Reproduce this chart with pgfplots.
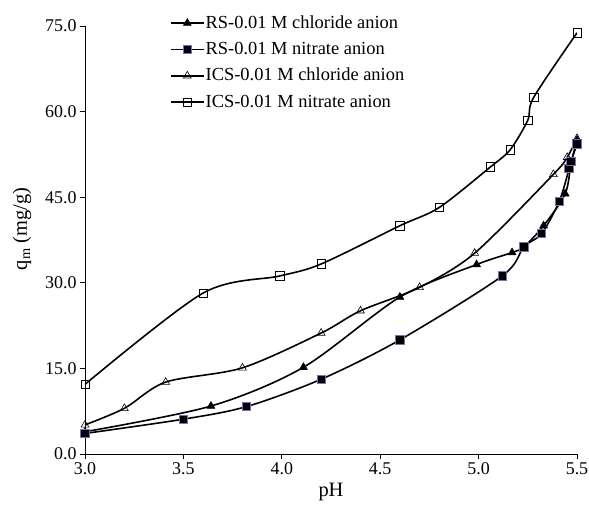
\documentclass[border=0pt]{standalone}
\usepackage{pgfplots}
\pgfplotsset{compat=1.18}
\usepackage{fontspec}
\setmainfont{Liberation Serif}
\definecolor{purp}{RGB}{135,105,185}
\begin{document}
\begin{tikzpicture}
\begin{axis}[
  scale only axis, width=492bp, height=428bp,
  xmin=3, xmax=5.5, ymin=0, ymax=75,
  xtick={3,3.5,4,4.5,5,5.5}, ytick={0,15,30,45,60,75},
  axis lines=left, axis line style={-, line width=0.8pt},
  tick align=outside, major tick length=5bp,
  tick style={line width=0.8pt, black},
  /pgf/number format/assume math mode=true,
  xticklabel style={/pgf/number format/.cd, fixed, fixed zerofill, precision=1},
  yticklabel style={/pgf/number format/.cd, fixed, fixed zerofill, precision=1},
  ticklabel style={font=\fontsize{18}{20}\selectfont},
  label style={font=\fontsize{20.5}{22}\selectfont},
  xlabel={pH}, ylabel={q\textsubscript{m} (mg/g)},
  xlabel style={at={(axis description cs:0.5,-0.0888)}, anchor=center},
  ylabel style={at={(axis description cs:-0.128,0.526)}, anchor=center, rotate=0},
  legend style={draw=none, fill=none, inner sep=0pt, outer sep=0pt,
    at={(axis cs:3.432,77.8)}, anchor=north west,
    font=\fontsize{18.5}{21}\selectfont, row sep=0pt, column sep=0pt,
    nodes={text height=13bp, text depth=3bp, inner ysep=5.15bp, inner xsep=1bp}},
  legend cell align=left,
  legend image code/.code={\draw[mark repeat=2, mark phase=2] plot coordinates {(0bp,0bp) (16.5bp,0bp) (33bp,0bp)};},
  every axis plot/.append style={line width=1.6bp, smooth, tension=0.5},
]
\addplot[black, mark=triangle*, mark size=4.5pt, mark options={fill=black, line width=0.6pt}] coordinates {
 (3.0,3.9) (3.64,8.4) (4.11,15.2) (4.6,27.5) (4.99,33.2) (5.17,35.3) (5.23,36.3) (5.33,40) (5.44,45.6) (5.47,51) (5.5,55)};
\addlegendentry{RS-0.01 M chloride anion}
\addplot[black, mark=square*, mark size=4.2pt, mark options={fill=black, draw=purp, line width=0.9pt}] coordinates {
 (3.0,3.6) (3.5,6.1) (3.82,8.3) (4.2,13.1) (4.6,20) (5.12,31.2) (5.23,36.3) (5.32,38.6) (5.41,44.3) (5.46,50) (5.47,51.3) (5.5,54.3)};
\addlegendentry{RS-0.01 M nitrate anion}
\addplot[black, mark=triangle, mark size=4.5pt, mark options={fill=white, line width=0.6pt}] coordinates {
 (3.0,5.1) (3.2,8.0) (3.41,12.6) (3.8,15.1) (4.2,21.2) (4.4,25.1) (4.7,29.2) (4.98,35.2) (5.38,49.0) (5.45,52) (5.5,55.3)};
\addlegendentry{ICS-0.01 M chloride anion}
\addplot[black, mark=square, mark size=4.2pt, mark options={fill=white, line width=0.6pt}] coordinates {
 (3.0,12.2) (3.6,28.2) (3.99,31.2) (4.2,33.3) (4.6,40) (4.8,43.2) (5.06,50.3) (5.16,53.3) (5.25,58.5) (5.28,62.5) (5.5,73.8)};
\addlegendentry{ICS-0.01 M nitrate anion}
\end{axis}
\pgfresetboundingbox
\useasboundingbox (current axis.south west) ++(-85bp,-52bp) rectangle ++(589bp,506bp);
\end{tikzpicture}
\end{document}
